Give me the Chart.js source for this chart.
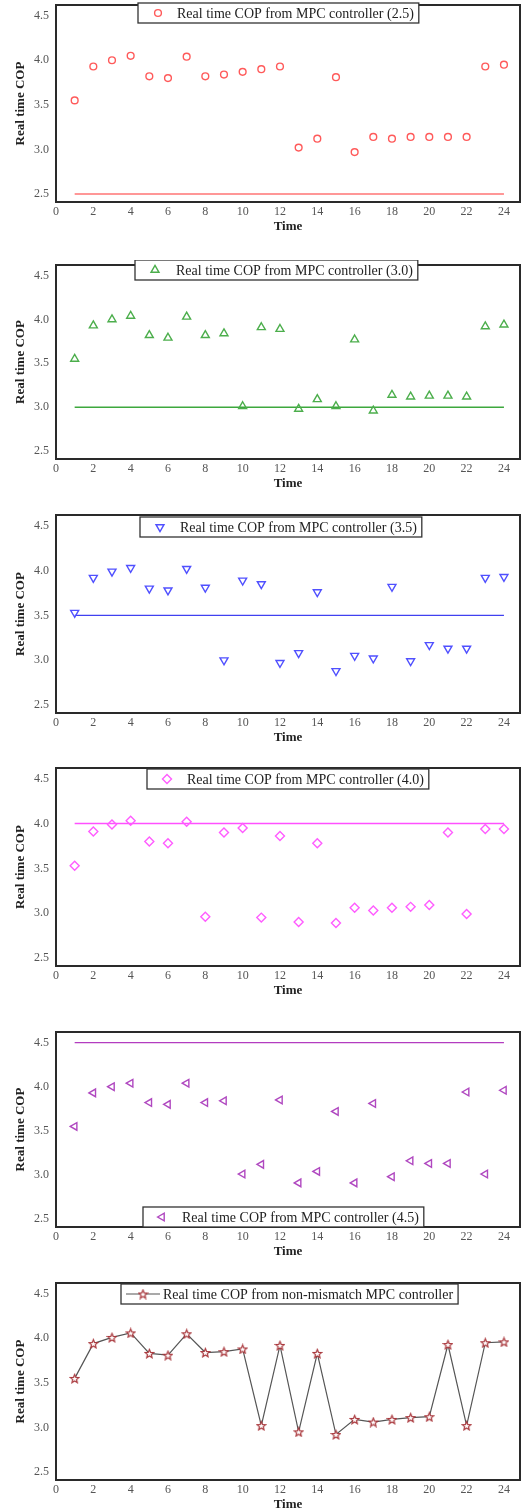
<!DOCTYPE html>
<html>
<head>
<meta charset="utf-8">
<script src="https://cdn.jsdelivr.net/npm/chart.js@4.4.1/dist/chart.umd.min.js"></script>
<style>
  body { margin: 0; background: #fff; width: 521px; height: 1510px; position: relative; overflow: hidden; }
  .panel { position: absolute; left: 0; width: 521px; }
  canvas { display: block; }
</style>
</head>
<body>
<div class="panel" style="top:0px"><canvas id="cop-25" width="521" height="239"></canvas></div>
<div class="panel" style="top:260px"><canvas id="cop-30" width="521" height="236"></canvas></div>
<div class="panel" style="top:510px"><canvas id="cop-35" width="521" height="240"></canvas></div>
<div class="panel" style="top:763px"><canvas id="cop-40" width="521" height="240"></canvas></div>
<div class="panel" style="top:1027px"><canvas id="cop-45" width="521" height="237"></canvas></div>
<div class="panel" style="top:1278px"><canvas id="cop-nm" width="521" height="239"></canvas></div>
<script>
// hours of the day
const hours = [1, 2, 3, 4, 5, 6, 7, 8, 9, 10, 11, 12, 13, 14, 15, 16, 17, 18, 19, 20, 21, 22, 23, 24];

// real time COP, one series per controller setting
const cop25 = [3.55, 3.93, 4.00, 4.05, 3.82, 3.80, 4.04, 3.82, 3.84, 3.87, 3.90, 3.93,
  3.02, 3.12, 3.81, 2.97, 3.14, 3.12, 3.14, 3.14, 3.14, 3.14, 3.93, 3.95];
const cop30 = [3.55, 3.93, 4.00, 4.04, 3.82, 3.79, 4.03, 3.82, 3.84, 3.01, 3.91, 3.89,
  2.98, 3.09, 3.01, 3.77, 2.96, 3.14, 3.12, 3.13, 3.13, 3.12, 3.92, 3.94];
const cop35 = [3.53, 3.92, 3.99, 4.03, 3.80, 3.78, 4.02, 3.81, 3.00, 3.89, 3.85, 2.97,
  3.08, 3.76, 2.88, 3.05, 3.02, 3.82, 2.99, 3.17, 3.13, 3.13, 3.92, 3.93];
const cop40 = [3.53, 3.91, 3.99, 4.03, 3.80, 3.78, 4.02, 2.96, 3.90, 3.95, 2.95, 3.86,
  2.90, 3.78, 2.89, 3.06, 3.03, 3.06, 3.07, 3.09, 3.90, 2.99, 3.94, 3.94];
const cop45 = [3.55, 3.93, 4.00, 4.04, 3.82, 3.80, 4.04, 3.82, 3.84, 3.01, 3.12, 3.85,
  2.91, 3.04, 3.72, 2.91, 3.81, 2.98, 3.16, 3.13, 3.13, 3.94, 3.01, 3.96];
const copNonMismatch = [3.55, 3.94, 4.01, 4.06, 3.83, 3.81, 4.05, 3.84, 3.85, 3.88, 3.02, 3.92,
  2.95, 3.83, 2.92, 3.09, 3.06, 3.09, 3.11, 3.12, 3.93, 3.02, 3.95, 3.96];

// COP setpoints of the mismatched controllers
const setpoints = [2.5, 3.0, 3.5, 4.0, 4.5];

const seriesLabels = [
  "Real time COP from MPC controller (2.5)",
  "Real time COP from MPC controller (3.0)",
  "Real time COP from MPC controller (3.5)",
  "Real time COP from MPC controller (4.0)",
  "Real time COP from MPC controller (4.5)",
  "Real time COP from non-mismatch MPC controller",
];

const xTickValues = [0, 2, 4, 6, 8, 10, 12, 14, 16, 18, 20, 22, 24];
const yTickValues = [2.5, 3.0, 3.5, 4.0, 4.5];

const serif = "'Liberation Serif', 'Times New Roman', serif";

function makeStar(color, size) {
  const c = document.createElement("canvas");
  c.width = size;
  c.height = size;
  const g = c.getContext("2d");
  const cx = size / 2, cy = size / 2 + 0.5, R = size / 2 - 1, r = R * 0.45;
  g.beginPath();
  for (let i = 0; i < 10; i++) {
    const ang = -Math.PI / 2 + (i * Math.PI) / 5;
    const rad = i % 2 ? r : R;
    g.lineTo(cx + rad * Math.cos(ang), cy + rad * Math.sin(ang));
  }
  g.closePath();
  g.fillStyle = "#fff";
  g.fill();
  g.strokeStyle = color;
  g.lineWidth = 1.2;
  g.stroke();
  return c;
}

const starImg = makeStar("#a8353a", 11);

// frame round the plot + boxed legend inside it
const frameLegend = {
  id: "frameLegend",
  afterDatasetsDraw(chart, args, opts) {
    const { ctx, chartArea: a } = chart;
    ctx.save();
    ctx.strokeStyle = "#2a2a2a";
    ctx.lineWidth = 2;
    ctx.strokeRect(a.left, a.top, a.right - a.left, a.bottom - a.top);

    const ds = chart.data.datasets[0];
    ctx.font = "14px " + serif;
    const textW = ctx.measureText(ds.label).width;
    const bx = opts.x;
    const bh = 20;
    const by = opts.bottom ? a.bottom - bh + opts.y : a.top + opts.y;
    const bw = opts.textX - bx + textW + 5;
    ctx.fillStyle = "#fff";
    ctx.fillRect(bx, by, bw, bh);
    ctx.strokeStyle = "#333";
    ctx.lineWidth = 1.3;
    ctx.strokeRect(bx, by, bw, bh);

    const my = by + bh / 2;
    if (ds.showLine) {
      ctx.strokeStyle = ds.borderColor;
      ctx.lineWidth = 1.2;
      ctx.beginPath();
      ctx.moveTo(opts.markerX - 17, my);
      ctx.lineTo(opts.markerX + 17, my);
      ctx.stroke();
    }
    if (ds.pointStyle instanceof HTMLCanvasElement) {
      ctx.drawImage(ds.pointStyle, opts.markerX - ds.pointStyle.width / 2, my - ds.pointStyle.height / 2);
    } else {
      ctx.strokeStyle = ds.pointBorderColor;
      ctx.fillStyle = "#fff";
      ctx.lineWidth = ds.pointBorderWidth;
      Chart.helpers.drawPoint(ctx, {
        pointStyle: ds.pointStyle,
        rotation: ds.pointRotation || 0,
        radius: ds.pointRadius,
        borderWidth: ds.pointBorderWidth,
      }, opts.markerX, my);
    }
    ctx.fillStyle = "#222";
    ctx.textBaseline = "middle";
    ctx.textAlign = "left";
    ctx.fillText(ds.label, opts.textX, my + 1);
    ctx.restore();
  },
};

function makeConfig(datasets, legendPos) {
  return {
    type: "scatter",
    data: { datasets: datasets },
    options: {
      responsive: false,
      animation: false,
      devicePixelRatio: 1,
      layout: { autoPadding: false, padding: { top: 5, right: 1, left: 0, bottom: 0 } },
      plugins: {
        legend: { display: false },
        tooltip: { enabled: false },
        frameLegend: legendPos,
      },
      scales: {
        x: {
          type: "linear",
          min: 0,
          max: 24.86,
          afterBuildTicks: (s) => { s.ticks = xTickValues.map((v) => ({ value: v })); },
          afterFit: (s) => { s.height = 37; s.paddingLeft = 0; s.paddingRight = 0; },
          grid: { display: false, drawTicks: false },
          border: { display: false },
          ticks: { padding: 3, color: "#555", autoSkip: false, maxRotation: 0, font: { family: serif, size: 12 } },
          title: {
            display: true,
            text: "Time",
            color: "#222",
            font: { family: serif, size: 13, weight: "bold" },
            padding: { top: 0, bottom: 5 },
          },
        },
        y: {
          min: 2.41,
          max: 4.62,
          afterBuildTicks: (s) => { s.ticks = yTickValues.map((v) => ({ value: v })); },
          afterFit: (s) => { s.width = 56; s.paddingTop = 0; s.paddingBottom = 0; },
          grid: { display: false, drawTicks: false },
          border: { display: false },
          ticks: {
            padding: 7,
            color: "#555",
            font: { family: serif, size: 12 },
            callback: (v) => v.toFixed(1),
          },
          title: {
            display: true,
            text: "Real time COP",
            color: "#222",
            font: { family: serif, size: 13, weight: "bold" },
            padding: { top: 13, bottom: 0 },
          },
        },
      },
    },
    plugins: [frameLegend],
  };
}

function toPoints(values) {
  return hours.map((h, i) => ({ x: h, y: values[i] }));
}

function setpointLine(level, color) {
  return {
    label: "setpoint " + level,
    data: [{ x: hours[0], y: level }, { x: hours[hours.length - 1], y: level }],
    showLine: true,
    borderColor: color,
    borderWidth: 1.4,
    pointRadius: 0,
  };
}

const mismatchPanels = [
  { id: "cop-25", values: cop25, level: setpoints[0], label: seriesLabels[0], color: "#ff5a5a", lineColor: "#ff7474",
    style: "circle", rotation: 0, radius: 3.4, legend: { x: 138, y: -2, markerX: 158, textX: 177 } },
  { id: "cop-30", values: cop30, level: setpoints[1], label: seriesLabels[1], color: "#4cae4c", lineColor: "#3da83d",
    style: "triangle", rotation: 0, radius: 4.6, legend: { x: 135, y: -5, markerX: 155, textX: 176 } },
  { id: "cop-35", values: cop35, level: setpoints[2], label: seriesLabels[2], color: "#5050ff", lineColor: "#4040f0",
    style: "triangle", rotation: 180, radius: 4.6, legend: { x: 140, y: 2, markerX: 160, textX: 180 } },
  { id: "cop-40", values: cop40, level: setpoints[3], label: seriesLabels[3], color: "#ff5cff", lineColor: "#ff50ff",
    style: "rectRot", rotation: 0, radius: 4.5, legend: { x: 147, y: 1, markerX: 167, textX: 187 } },
  { id: "cop-45", values: cop45, level: setpoints[4], label: seriesLabels[4], color: "#b048c0", lineColor: "#b33cc0",
    style: "triangle", rotation: -90, radius: 4.4, legend: { x: 143, y: 0, bottom: true, markerX: 162, textX: 182 } },
];

const charts = [];

mismatchPanels.forEach((p) => {
  const ctx = document.getElementById(p.id).getContext("2d");
  const datasets = [
    {
      label: p.label,
      data: toPoints(p.values),
      showLine: false,
      pointStyle: p.style,
      pointRotation: p.rotation,
      pointRadius: p.radius,
      pointBorderColor: p.color,
      pointBackgroundColor: "rgba(255,255,255,0)",
      pointBorderWidth: 1.4,
    },
    setpointLine(p.level, p.lineColor),
  ];
  charts.push(new Chart(ctx, makeConfig(datasets, p.legend)));
});

// non-mismatch controller: stars joined by a line
const nmCtx = document.getElementById("cop-nm").getContext("2d");
charts.push(new Chart(nmCtx, makeConfig([
  {
    label: seriesLabels[5],
    data: toPoints(copNonMismatch),
    showLine: true,
    borderColor: "#555",
    borderWidth: 1.2,
    pointStyle: starImg,
    pointRadius: 5,
  },
], { x: 121, y: 1, markerX: 143, textX: 163 })));
</script>
</body>
</html>
